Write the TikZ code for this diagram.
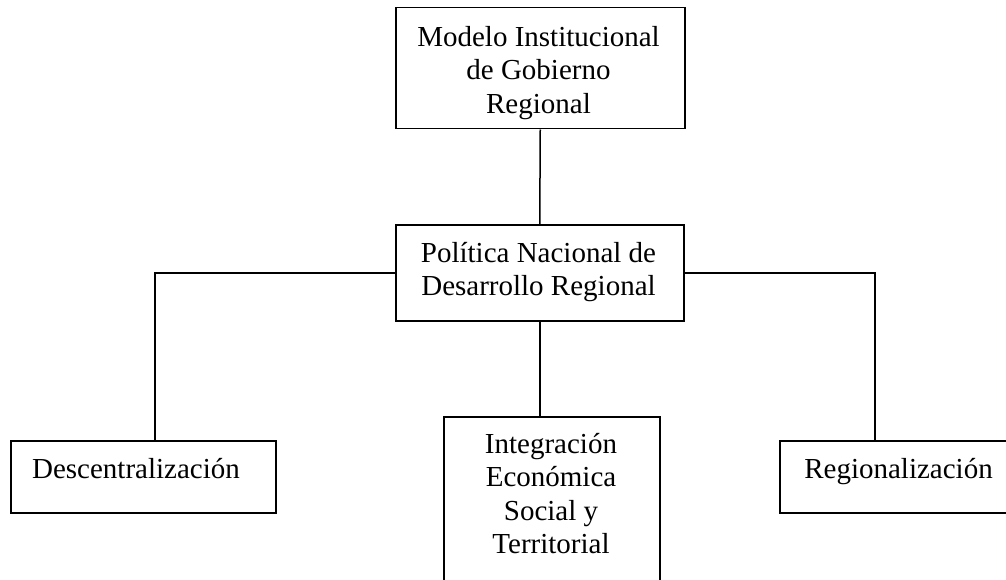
\documentclass[tikz,border=0pt]{standalone}
\usepackage{fontspec}
\setmainfont{Liberation Serif}
\usetikzlibrary{calc}
\begin{document}
\begin{tikzpicture}[x=1pt,y=-1pt,
  box/.style={draw=black, line width=1.5pt, inner sep=0pt, anchor=north west, fill=none},
  txt/.style={font=\fontsize{29}{33.5}\selectfont, align=center, inner sep=0pt},
  conn/.style={draw=black, line width=1.5pt}]
\useasboundingbox (0,0) rectangle (1006,580);
\clip (0,0) rectangle (1006,580);
% boxes
\node[box, minimum width=289pt, minimum height=121pt] (top) at (395,7) {};
\node[box, minimum width=288pt, minimum height=96pt] (mid) at (395,224) {};
\node[box, minimum width=265pt, minimum height=72pt] (lbox) at (10,440) {};
\node[box, minimum width=216pt, minimum height=190pt] (cbox) at (443,416) {};
\node[box, minimum width=239pt, minimum height=72pt] (rbox) at (779,440) {};
% texts
\node[txt, anchor=north] (toptxt) at (538.5,26) {Modelo Institucional\\de Gobierno\\Regional};
\node[txt, anchor=north] (midtxt) at (538.5,242) {Política Nacional de\\Desarrollo Regional};
\node[txt, anchor=north] (ctxt) at (551,433) {Integración\\Económica\\Social y\\Territorial};
\node[txt, anchor=base] (ltxt) at (136,478) {Descentralización};
\node[txt, anchor=base] (rtxt) at (898.5,478) {Regionalización};
% connector end points on the lower boxes
\coordinate (lin) at ($(lbox.north west)+(145,0)$);
\coordinate (cin) at ($(cbox.north west)+(96,0)$);
\coordinate (rin) at ($(rbox.north west)+(96,0)$);
% connectors
\draw[conn] (top.south) -- (mid.north);
\draw[conn] (mid.west) -| (lin);
\draw[conn] (mid.east) -| (rin);
\draw[conn] (mid.south) -- (mid.south |- cin);
\end{tikzpicture}
\end{document}
